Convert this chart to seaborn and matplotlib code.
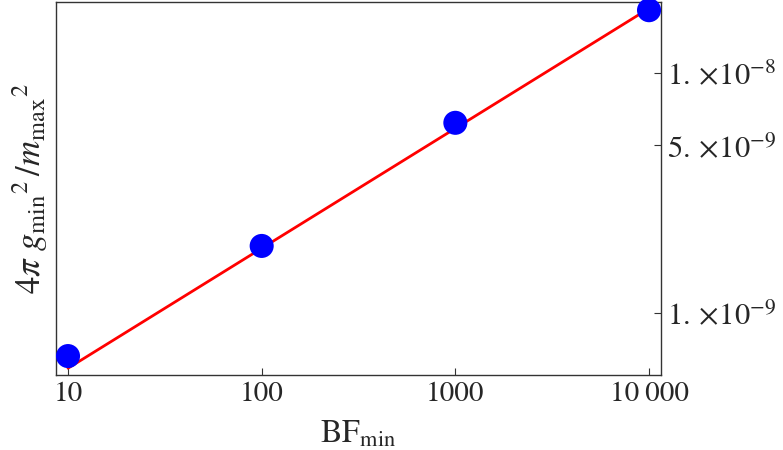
import numpy as np
import pandas as pd
import matplotlib
matplotlib.use("Agg")
import matplotlib.pyplot as plt
from matplotlib.ticker import FixedLocator, FuncFormatter, NullLocator
import seaborn as sns

# Minimum Bayes factor and the corresponding coupling bound
bf_min = [10, 100, 1000, 10000]
coupling = [6.62e-10, 1.905e-9, 6.21e-9, 1.83e-8]

# Power-law fit (slope 1/2 on log-log axes), drawn through its end points
fit_bf = [10, 10000]
fit_coupling = [5.89e-10, 1.862e-8]

x_ticks = [10, 100, 1000, 10000]
x_tick_labels = ["10", "100", "1000", "10\u2009000"]
y_ticks = [1e-9, 5e-9, 1e-8]
y_tick_labels = [r"$1.\times\!10^{-9}$", r"$5.\times\!10^{-9}$", r"$1.\times\!10^{-8}$"]

sns.set_style("ticks")
plt.rcParams["font.family"] = ["STIXGeneral", "DejaVu Serif"]
plt.rcParams["mathtext.fontset"] = "stix"

points = pd.DataFrame({"bf": bf_min, "g": coupling})
fit = pd.DataFrame({"bf": fit_bf, "g": fit_coupling})

fig = plt.figure(figsize=(7.83, 4.5), dpi=100)
ax = fig.add_axes([56 / 783, 1 - 375 / 450, 605 / 783, 373 / 450])

sns.lineplot(data=fit, x="bf", y="g", color="#ff0000", linewidth=2.0, ax=ax, zorder=2)
sns.scatterplot(data=points, x="bf", y="g", color="#0000ff", s=300, edgecolor="none",
                ax=ax, zorder=3, clip_on=False)

ax.set_xscale("log")
ax.set_yscale("log")
ax.set_xlim(8.67, 11530)
ax.set_ylim(5.52e-10, 1.98e-8)

ax.xaxis.set_major_locator(FixedLocator(x_ticks))
ax.xaxis.set_major_formatter(FuncFormatter(lambda v, p: x_tick_labels[x_ticks.index(round(v))] if round(v) in x_ticks else ""))
ax.xaxis.set_minor_locator(NullLocator())
ax.yaxis.set_major_locator(FixedLocator(y_ticks))
ax.yaxis.set_major_formatter(FuncFormatter(lambda v, p: y_tick_labels[p] if p is not None and p < len(y_tick_labels) else ""))
ax.yaxis.set_minor_locator(NullLocator())
ax.yaxis.tick_right()

ax.tick_params(axis="x", direction="in", length=5, width=0.8, color="#333333",
               labelsize=21, pad=5, top=False)
ax.tick_params(axis="y", direction="in", length=5, width=0.8, color="#333333",
               labelsize=22, pad=4, left=False, right=True)

for side in ["left", "right", "top", "bottom"]:
    ax.spines[side].set_visible(True)
    ax.spines[side].set_color("#333333")
    ax.spines[side].set_linewidth(1.0)

ax.set_xlabel(r"$\mathrm{BF}_{\mathrm{min}}$", fontsize=23, labelpad=9)
ax.set_ylabel(r"$4\pi\ g_{\mathrm{min}}{}^{2}\,/m_{\mathrm{max}}{}^{2}$", fontsize=25, labelpad=4)
ax.yaxis.set_label_position("left")

fig.savefig("out.png", dpi=100)
